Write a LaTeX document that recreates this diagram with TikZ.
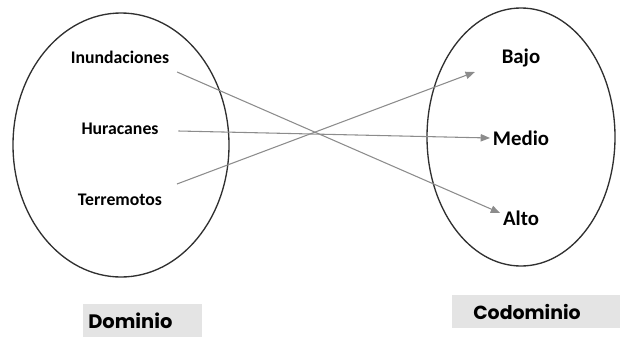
\documentclass[tikz,border=0pt]{standalone}
\usepackage{fontspec}
\setmainfont{Carlito}
\newfontfamily\tagfont{Poppins}
\usepackage{tikz}
\usetikzlibrary{positioning, arrows.meta, calc}
\definecolor{mapInk}{HTML}{303030}
\definecolor{mapArrow}{HTML}{8C8C8C}
\definecolor{mapBox}{HTML}{E4E4E4}

\begin{document}
\begin{tikzpicture}[x=0.75pt, y=-0.75pt,
    elem/.style={font=\fontsize{13.3}{15}\selectfont\bfseries, text=black, inner sep=2pt},
    value/.style={font=\fontsize{15.6}{18}\selectfont\bfseries, text=black, inner sep=2pt},
    tag/.style={fill=mapBox, font=\tagfont\bfseries, text=black, align=left,
      minimum height=24.75pt, anchor=north west},
    link/.style={draw=mapArrow, line width=0.8pt,
      -{Triangle[length=7pt, width=5.5pt]}}]
    \useasboundingbox (0,0) rectangle (621,336);
    % ---- the two sets ----
    \draw[mapInk, line width=1pt] (121,145) ellipse [x radius=108, y radius=132];
    \draw[mapInk, line width=1pt] (521,137) ellipse [x radius=94, y radius=129];
    % ---- domain ----
    \node[elem] (inu) at (120,57) {Inundaciones};
    \node[elem] (hur) at (120,129) {Huracanes};
    \node[elem] (ter) at (120,200) {Terremotos};
    % ---- codomain ----
    \node[value] (bajo) at (521,58) {Bajo};
    \node[value] (medio) at (521,138) {Medio};
    \node[value] (alto) at (521,218) {Alto};
    % ---- mapping ----
    \draw[link] ($(inu.east)+(5,15)$) -- ($(alto.west)+(0,-5)$);
    \draw[link] ($(hur.east)+(17,2)$) -- (medio.west);
    \draw[link] ($(ter.east)+(12,-16)$) -- ($(bajo.west)+(-24,14)$);
    % ---- captions ----
    \node[tag, font=\tagfont\bfseries\fontsize{14.6}{17}\selectfont,
      text width=81.75pt, inner xsep=3.75pt] (dom) at (83,304) {Dominio};
    \node[tag, font=\tagfont\bfseries\fontsize{14.2}{17}\selectfont,
      text width=94.5pt, inner xsep=15.75pt] (cod) at (452,295) {Codominio};
\end{tikzpicture}
\end{document}
